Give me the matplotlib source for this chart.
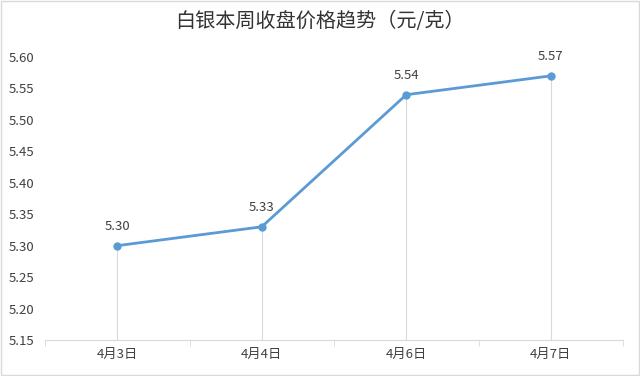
import matplotlib
matplotlib.use("Agg")
import matplotlib.pyplot as plt
from matplotlib.patches import Rectangle

plt.rcParams['font.family'] = ['Noto Sans CJK SC', 'DejaVu Sans']

categories = ["4月3日", "4月4日", "4月6日", "4月7日"]
values = [5.30, 5.33, 5.54, 5.57]
yticks = [5.15, 5.20, 5.25, 5.30, 5.35, 5.40, 5.45, 5.50, 5.55, 5.60]
title = "白银本周收盘价格趋势（元/克）"

fig = plt.figure(figsize=(6.4, 3.76), dpi=100)
ax = fig.add_axes([45/640, 1-340/376, (623-45)/640, (340-57)/376])

line_color = "#5B9BD5"
x = list(range(len(categories)))
ax.vlines(x, 5.15, values, color="#D9D9D9", linewidth=0.8, zorder=1)
ax.plot(x, values, color=line_color, linewidth=2, marker="o", markersize=5, zorder=3)
for xi, v in zip(x, values):
    ax.annotate(f"{v:.2f}", (xi, v), xytext=(0, 9), textcoords="offset points",
                ha="center", va="bottom", fontsize=9.5, color="#404040")

ax.set_xlim(-0.5, len(categories) - 0.5)
ax.set_ylim(5.15, 5.60)
ax.set_yticks(yticks)
ax.set_yticklabels([f"{t:.2f}" for t in yticks], fontsize=9.5, color="#404040")
ax.set_xticks(x)
ax.set_xticklabels(categories, fontsize=9.5, color="#404040")
ax.tick_params(axis='x', length=0, pad=6)
ax.tick_params(axis='y', length=0, pad=8)
# category boundary tick marks
ax.set_xticks([i - 0.5 for i in range(len(categories) + 1)], minor=True)
ax.tick_params(axis='x', which='minor', length=4, color="#D9D9D9", direction='out')

for s in ['top', 'right', 'left']:
    ax.spines[s].set_visible(False)
ax.spines['bottom'].set_color("#D9D9D9")

fig.text(0.5, 1 - 22/376, title, ha="center", va="center", fontsize=14.5, color="#333333")

fig.patches.append(Rectangle((0.002, 0.003), 0.996, 0.994, transform=fig.transFigure,
                             fill=False, edgecolor="#D9D9D9", linewidth=1))

fig.savefig("out.png", dpi=100)
